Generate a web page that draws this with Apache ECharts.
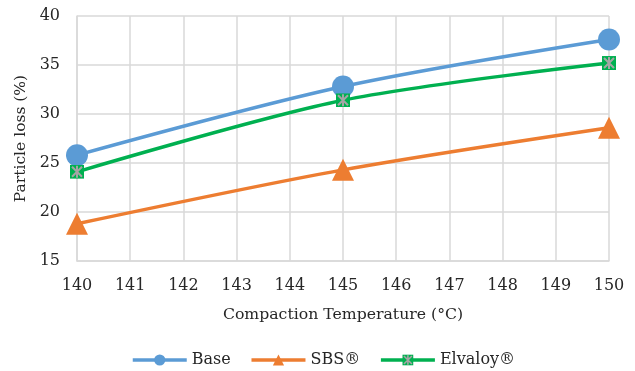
<!DOCTYPE html>
<html>
<head>
<meta charset="utf-8">
<script src="https://cdn.jsdelivr.net/npm/echarts@6/dist/echarts.min.js"></script>
<style>
  html, body { margin: 0; padding: 0; background: #fff; }
  #chart { width: 635px; height: 371px; }
</style>
</head>
<body>
<div id="chart"></div>
<script>
// Compaction temperatures (°C) and particle loss (%) per binder
const temperatures = [140, 145, 150];
const baseLoss = [25.8, 32.8, 37.6];
const sbsLoss = [18.8, 24.3, 28.6];
const elvaloyLoss = [24.1, 31.4, 35.2];
const seriesNames = ['Base', 'SBS®', 'Elvaloy®'];

const FONT = 'DejaVu Serif';
const TEXT = '#262626';
const gridColor = '#d9d9d9';

// green square with grey cross marker
const crossSquare = 'image://data:image/svg+xml;utf8,' + encodeURIComponent(
  '<svg xmlns="http://www.w3.org/2000/svg" width="14" height="14" viewBox="0 0 14 14">' +
  '<rect x="0" y="0" width="14" height="14" fill="#00b050"/>' +
  '<path d="M2 2 L12 12 M12 2 L2 12 M7 1 L7 13" stroke="#a5a5a5" stroke-width="2"/>' +
  '</svg>');

function pairs(vals) {
  return temperatures.map((t, i) => [t, vals[i]]);
}

const chart = echarts.init(document.getElementById('chart'), null, { renderer: 'canvas' });
chart.setOption({
  animation: false,
  grid: { left: 77, right: 26, top: 16, bottom: 110 },
  legend: {
    top: 347,
    left: 126,
    itemWidth: 54,
    itemHeight: 14,
    itemGap: 19,
    lineStyle: { width: 3.5 },
    textStyle: { fontFamily: FONT, fontSize: 16, color: TEXT },
    data: seriesNames
  },
  xAxis: {
    type: 'value',
    min: 140,
    max: 150,
    interval: 1,
    name: 'Compaction Temperature (°C)',
    nameLocation: 'middle',
    nameGap: 46,
    nameTextStyle: { fontFamily: FONT, fontSize: 15.7, color: TEXT },
    axisLine: { show: true, lineStyle: { color: gridColor, width: 1.5 } },
    axisTick: { show: false },
    axisLabel: { fontFamily: FONT, fontSize: 16, color: TEXT, margin: 17 },
    splitLine: { show: true, lineStyle: { color: gridColor, width: 1.5 } }
  },
  yAxis: {
    type: 'value',
    min: 15,
    max: 40,
    interval: 5,
    name: 'Particle loss (%)',
    nameLocation: 'middle',
    nameGap: 48,
    nameTextStyle: { fontFamily: FONT, fontSize: 15.5, color: TEXT },
    axisLine: { show: true, lineStyle: { color: gridColor, width: 1.5 } },
    axisTick: { show: false },
    axisLabel: { fontFamily: FONT, fontSize: 16, color: TEXT, margin: 17 },
    splitLine: { show: true, lineStyle: { color: gridColor, width: 1.5 } }
  },
  series: [
    {
      name: seriesNames[0],
      type: 'line',
      smooth: 0.3,
      data: pairs(baseLoss),
      symbol: 'circle',
      symbolSize: 22,
      lineStyle: { color: '#5b9bd5', width: 3.5 },
      itemStyle: { color: '#5b9bd5' },
      z: 3
    },
    {
      name: seriesNames[1],
      type: 'line',
      smooth: 0.3,
      data: pairs(sbsLoss),
      symbol: 'triangle',
      symbolSize: 22,
      lineStyle: { color: '#ed7d31', width: 3.5 },
      itemStyle: { color: '#ed7d31' },
      z: 2
    },
    {
      name: seriesNames[2],
      type: 'line',
      smooth: 0.3,
      data: pairs(elvaloyLoss),
      symbol: crossSquare,
      symbolSize: 14,
      lineStyle: { color: '#00b050', width: 3.5 },
      itemStyle: { color: '#00b050' },
      z: 4
    }
  ]
});
</script>
</body>
</html>
